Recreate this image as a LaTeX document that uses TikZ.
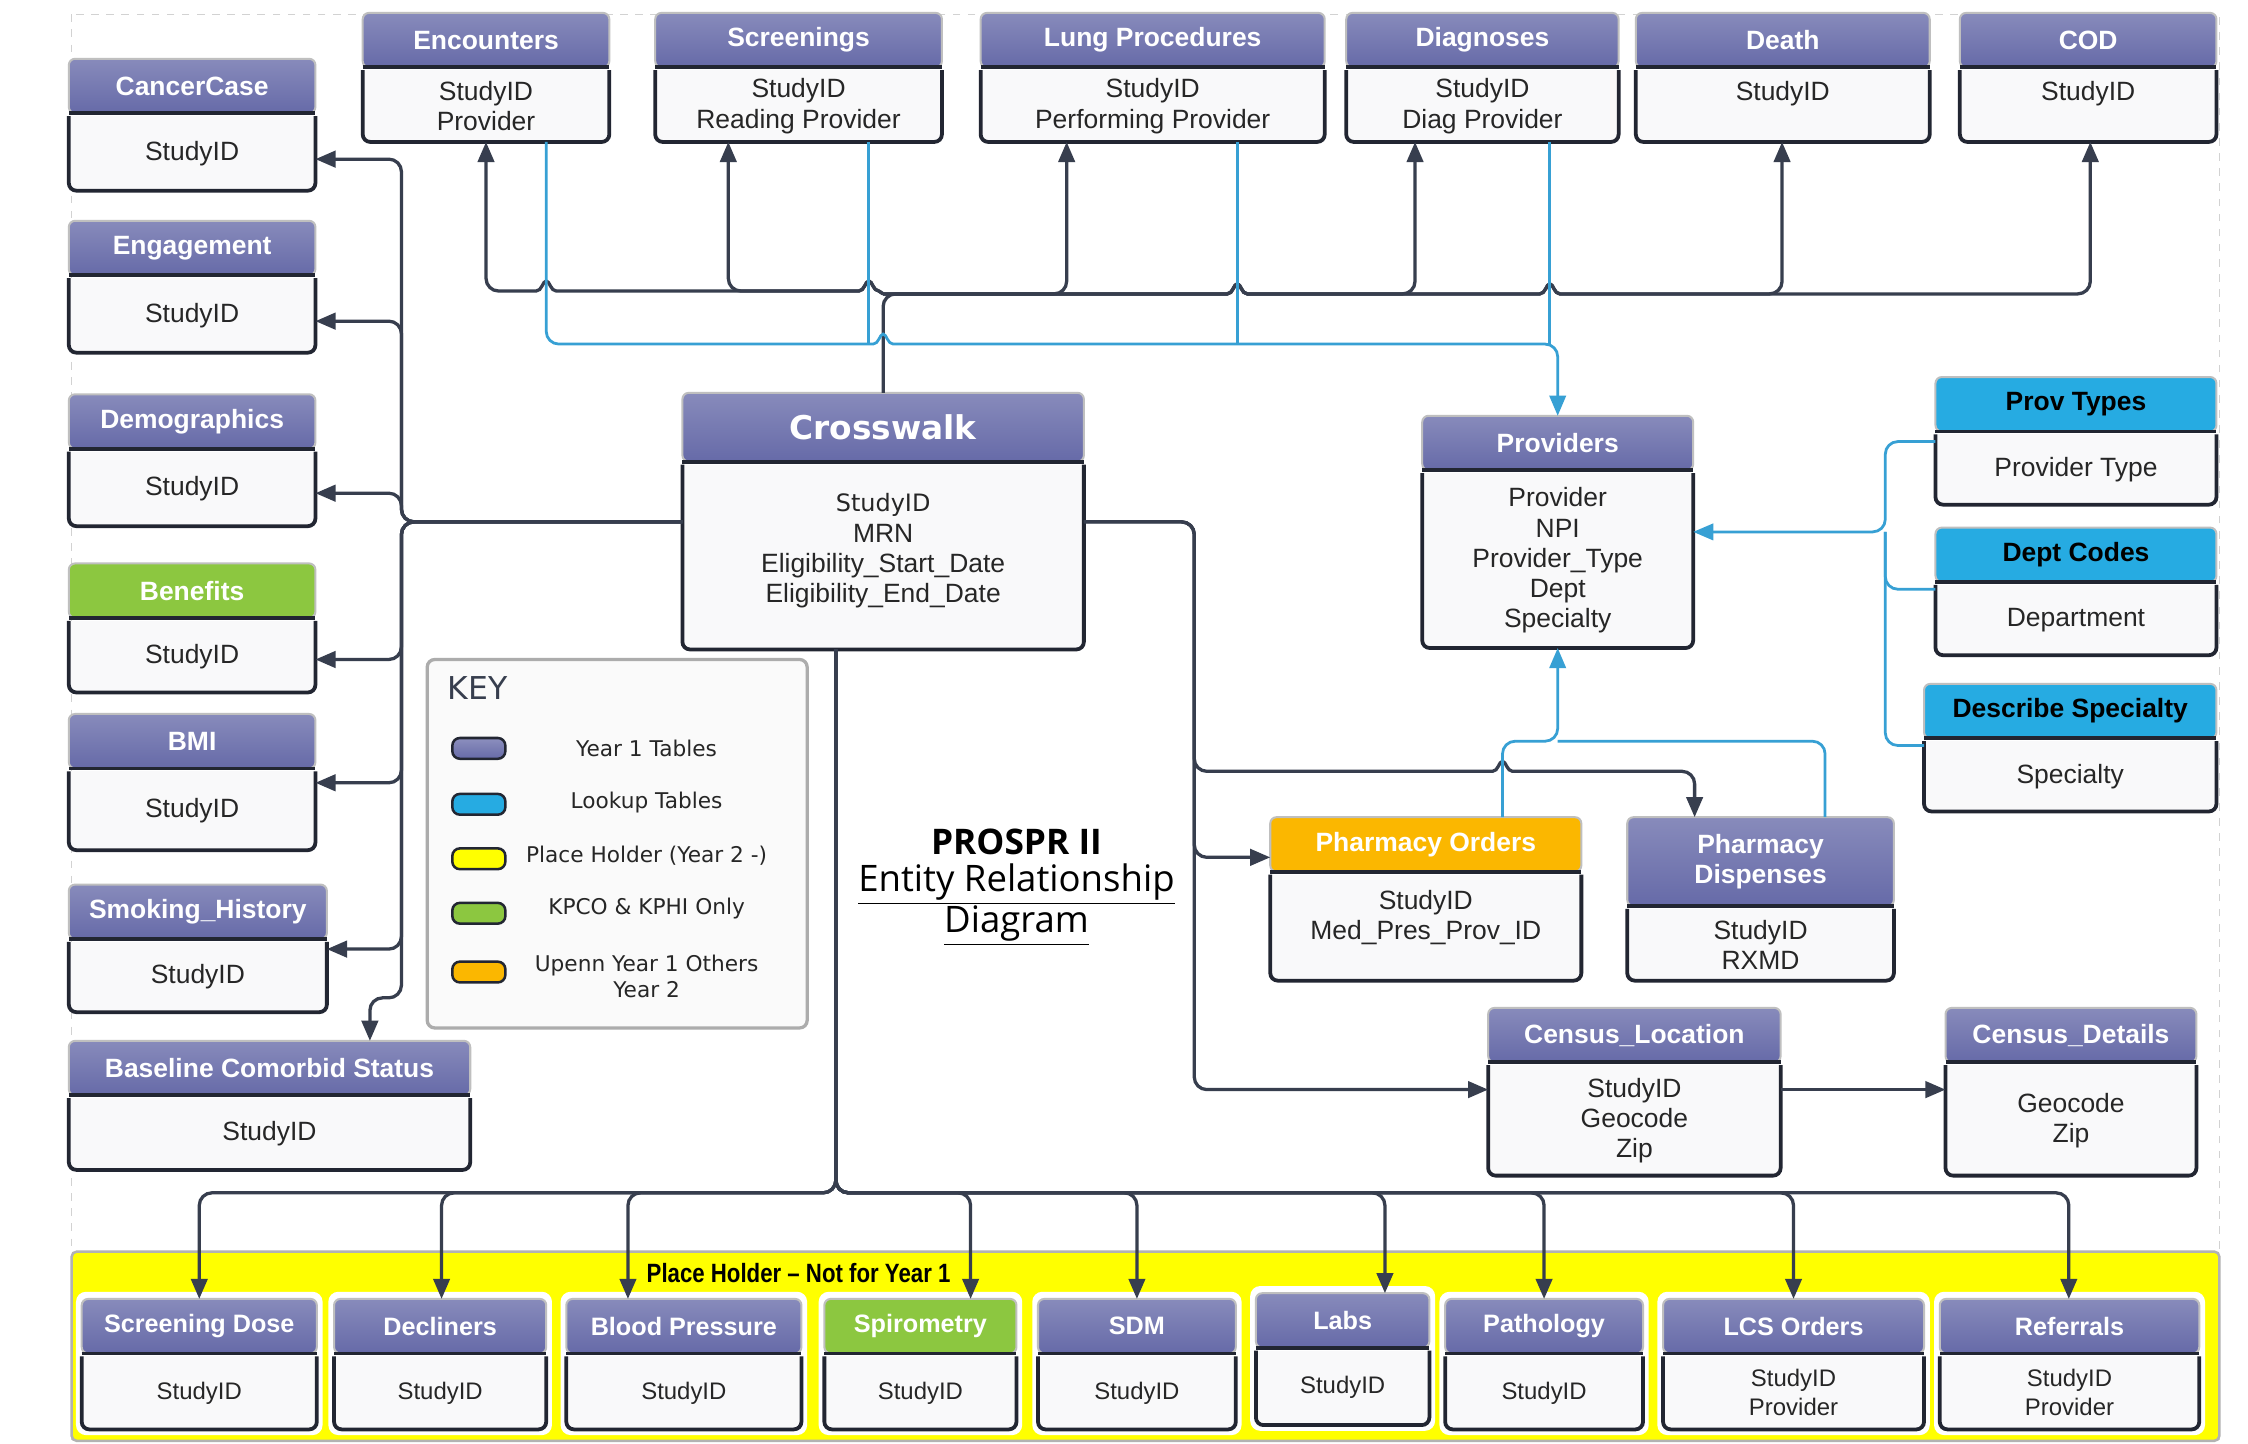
\documentclass[tikz,border=0pt]{standalone}
\usepackage{fontspec}
\setmainfont{Liberation Sans}
\newfontfamily\dvs{DejaVu Sans}
\newfontfamily\osans{Open Sans}
\newfontfamily\narrowf{Liberation Sans}[FakeStretch=0.84]
\usetikzlibrary{arrows.meta,fit}

\definecolor{hpur}{RGB}{102,106,168}
\definecolor{hcyan}{RGB}{38,171,226}
\definecolor{hgreen}{RGB}{140,199,64}
\definecolor{horange}{RGB}{251,183,0}
\definecolor{dkline}{RGB}{55,62,78}
\definecolor{bline}{RGB}{55,160,212}
\definecolor{bodyfill}{RGB}{249,249,250}
\definecolor{edgec}{RGB}{34,38,50}
\definecolor{phyellow}{RGB}{255,255,0}

\newcommand\erbox[9]{%
  \node[hdr,#7,fit={(#2,#4) (#3,#5)}] (#1H) {};
  \node[hdrtxt,#7t] (#1HT) at (#1H.center) {#8};
  \draw[hdrbot] (#1H.south west) -- (#1H.south east);
  \node[bodybox,fit={(#2,#5+2) (#3,#6)}] (#1) {};
  \draw[bodyedge] (#1.north west) -- (#1.south west) -- (#1.south east) -- (#1.north east);
  \node[bodytxt] (#1T) at (#1.center) {#9};
}
\newcommand\bmpR[2]{[sharp corners] -- (#1-7,#2) .. controls (#1-3,#2) and (#1-2.5,#2-7) .. (#1,#2-7) .. controls (#1+2.5,#2-7) and (#1+3,#2) .. (#1+7,#2) [rounded corners=5pt]}
\newcommand\bmpL[2]{[sharp corners] -- (#1+7,#2) .. controls (#1+3,#2) and (#1+2.5,#2-7) .. (#1,#2-7) .. controls (#1-2.5,#2-7) and (#1-3,#2) .. (#1-7,#2) [rounded corners=5pt]}

\begin{document}
\begin{tikzpicture}[x=0.02cm,y=-0.02cm,
  hdr/.style={inner sep=0pt, outer sep=0pt, rounded corners=2.5pt, draw=gray!50, line width=0.8pt},
  hdrtxt/.style={inner sep=0pt, align=center, font=\bfseries\fontsize{10.5}{12}\selectfont},
  hP/.style={top color=hpur!78!white, bottom color=hpur}, hPt/.style={text=white},
  hX/.style={hP}, hXt/.style={text=white, font=\dvs\bfseries\fontsize{13}{15}\selectfont},
  hC/.style={fill=hcyan}, hCt/.style={text=black},
  hG/.style={fill=hgreen}, hGt/.style={text=white},
  hO/.style={fill=horange}, hOt/.style={text=white},
  hdrbot/.style={draw=edgec, line width=1.5pt},
  bodybox/.style={inner sep=0pt, outer sep=0pt, fill=bodyfill},
  bodyedge/.style={draw=edgec, line width=1.5pt, rounded corners=3pt},
  bodytxt/.style={inner sep=0pt, align=center, text=black!85, font=\fontsize{10.5}{12}\selectfont},
  dk/.style={draw=dkline, line width=1.3pt, rounded corners=5pt},
  dkarr/.style={dk, -{Triangle[length=8pt,width=6.5pt]}},
  blu/.style={draw=bline, line width=1.1pt, rounded corners=5pt},
  bluarr/.style={blu, -{Triangle[length=8pt,width=6.5pt]}},
  swatch/.style={draw=edgec, line width=1pt, rounded corners=3pt, minimum width=0.74cm, minimum height=0.29cm, inner sep=0pt},
  keytxt/.style={font=\dvs\fontsize{8.6}{10.4}\selectfont, text=black!85, align=center, inner sep=0pt}
]
\useasboundingbox (0,0) rectangle (1568,1007);
\fill[white] (0,0) rectangle (1568,1007);
\draw[gray!35, dashed, line width=0.6pt] (50,10) rectangle (1548,1004);

% place holder band
\node[fill=phyellow, draw=gray!60, line width=1pt, rounded corners=2pt, inner sep=0pt, fit={(50,873) (1548,1005)}] (band) {};
\foreach \a/\b in {57/221,233/381,395/559,575/709,724/862,1008/1146,1160/1342,1353/1534}
  \fill[white, rounded corners=4pt] (\a-4,901) rectangle (\b+4,1001);
\fill[white, rounded corners=4pt] (872,897) rectangle (1001,998);

% top row
\erbox{enc}{253}{425}{9}{47}{99}{hP}{Encounters}{StudyID\\Provider}
\erbox{scr}{457}{657}{9}{47}{99}{hP}{Screenings}{StudyID\\Reading Provider}
\erbox{lung}{684}{924}{9}{47}{99}{hP}{Lung Procedures}{StudyID\\Performing Provider}
\erbox{diag}{939}{1129}{9}{47}{99}{hP}{Diagnoses}{StudyID\\Diag Provider}
\erbox{death}{1141}{1346}{9}{47}{99}{hP}{Death}{StudyID\\~}
\erbox{cod}{1367}{1546}{9}{47}{99}{hP}{COD}{StudyID\\~}

% left column
\erbox{cc}{48}{220}{41}{79}{133}{hP}{CancerCase}{StudyID}
\erbox{eng}{48}{220}{154}{192}{246}{hP}{Engagement}{StudyID}
\erbox{demo}{48}{220}{275}{313}{367}{hP}{Demographics}{StudyID}
\erbox{ben}{48}{220}{393}{431}{483}{hG}{Benefits}{StudyID}
\erbox{bmi}{48}{220}{498}{536}{593}{hP}{BMI}{StudyID}
\erbox{smk}{48}{228}{617}{655}{706}{hP}{Smoking\_History}{StudyID}
\erbox{bcs}{48}{328}{726}{764}{816}{hP}{Baseline Comorbid Status}{StudyID}

% crosswalk
\erbox{cw}{476}{756}{274}{322}{453}{hX}{Crosswalk}{\dvs\fontsize{9.5}{11.9}\selectfont StudyID\\MRN\\Eligibility\_Start\_Date\\Eligibility\_End\_Date\\[-5pt]}

% providers and lookups
\erbox{prov}{992}{1181}{290}{328}{452}{hP}{Providers}{Provider\\NPI\\Provider\_Type\\Dept\\Specialty}
\erbox{pt}{1350}{1546}{263}{301}{352}{hC}{Prov Types}{Provider Type}
\erbox{dc}{1350}{1546}{368}{406}{457}{hC}{Dept Codes}{Department}
\erbox{ds}{1342}{1546}{477}{515}{566}{hC}{Describe Specialty}{Specialty}

% pharmacy and census
\erbox{po}{886}{1103}{570}{608}{684}{hO}{Pharmacy Orders}{StudyID\\Med\_Pres\_Prov\_ID\\[-2pt]}
\erbox{pd}{1135}{1321}{570}{632}{684}{hP}{Pharmacy\\Dispenses}{StudyID\\RXMD}
\erbox{cl}{1038}{1242}{703}{741}{820}{hP}{Census\_Location}{StudyID\\Geocode\\Zip}
\erbox{cd}{1357}{1532}{703}{741}{820}{hP}{Census\_Details}{Geocode\\Zip}

% bottom row
\begin{scope}[bodytxt/.append style={font=\fontsize{9.5}{11.5}\selectfont}, hdrtxt/.append style={font=\bfseries\fontsize{10}{12}\selectfont}]
\erbox{sd}{57}{221}{906}{944}{997}{hP}{Screening Dose}{StudyID}
\erbox{dec}{233}{381}{906}{944}{997}{hP}{Decliners}{StudyID}
\erbox{bp}{395}{559}{906}{944}{997}{hP}{Blood Pressure}{StudyID}
\erbox{spi}{575}{709}{906}{944}{997}{hG}{Spirometry}{StudyID}
\erbox{sdm}{724}{862}{906}{944}{997}{hP}{SDM}{StudyID}
\erbox{labs}{876}{997}{902}{940}{994}{hP}{Labs}{StudyID}
\erbox{patho}{1008}{1146}{906}{944}{997}{hP}{Pathology}{StudyID}
\erbox{lcs}{1160}{1342}{906}{944}{997}{hP}{LCS Orders}{StudyID\\Provider}
\erbox{ref}{1353}{1534}{906}{944}{997}{hP}{Referrals}{StudyID\\Provider}
\end{scope}

\node[font=\narrowf\bfseries\fontsize{10.5}{12}\selectfont, inner sep=0pt] (phl) at (557,888) {Place Holder \textendash\ Not for Year 1};

% key
\node[draw=gray!65, line width=1.3pt, fill=gray!4, rounded corners=3pt, inner sep=0pt, fit={(298,460) (563,717)}] (key) {};
\node[font=\dvs\fontsize{12.5}{14}\selectfont, text=dkline, inner sep=0pt] (keyt) at (333,480) {KEY};
\node[swatch, top color=hpur!75!white, bottom color=hpur] (k1) at (334,522) {};
\node[swatch, fill=hcyan] (k2) at (334,561) {};
\node[swatch, fill=phyellow] (k3) at (334,599) {};
\node[swatch, fill=hgreen] (k4) at (334,637) {};
\node[swatch, fill=horange] (k5) at (334,678) {};
\node[keytxt] (k1t) at (451,522) {Year 1 Tables};
\node[keytxt] (k2t) at (451,560) {Lookup Tables};
\node[keytxt] (k3t) at (451,597) {Place Holder (Year 2 -)};
\node[keytxt] (k4t) at (451,634) {KPCO \& KPHI Only};
\node[keytxt] (k5t) at (451,681) {Upenn Year 1 Others\\Year 2};

% title
\node[font=\osans\bfseries\fontsize{14}{16}\selectfont, inner sep=0pt] (t1) at (709,587) {PROSPR II};
\node[font=\osans\fontsize{14.5}{16}\selectfont, inner sep=0pt] (t2) at (709,617) {\underline{Entity Relationship}};
\node[font=\osans\fontsize{14.5}{16}\selectfont, inner sep=0pt] (t3) at (709,646) {\underline{Diagram}};

% ---------- connectors ----------
\coordinate (tj) at (cwH.north |- 0,205);
% upper dark bus (Crosswalk -> top tables)
\draw[dkarr] (cwH.north) -- (tj) -- (744,205) -- (744,0 |- lung.south);
\draw[dkarr] (tj) -- (744,205) \bmpR{863}{205} -- (987,205) -- (987,0 |- diag.south);
\draw[dkarr] (tj) -- (744,205) \bmpR{863}{205} \bmpR{1081}{205} -- (1243,205) -- (1243,0 |- death.south);
\draw[dkarr] (tj) -- (744,205) \bmpR{863}{205} \bmpR{1081}{205} -- (1458,205) -- (1458,0 |- cod.south);
\draw[dkarr] (tj) \bmpL{606}{203} -- (508,203) -- (508,0 |- scr.south);
\draw[dkarr] (tj) \bmpL{606}{203} \bmpL{381}{203} -- (339,203) -- (339,0 |- enc.south);

% blue provider links (top)
\draw[bluarr] (381,0 |- enc.south) -- (381,240) \bmpR{616}{240} -- (provH.north |- 0,240) -- (provH.north);
\draw[blu] (606,0 |- scr.south) -- (606,240);
\draw[blu] (863,0 |- lung.south) -- (863,240);
\draw[blu] (1081,0 |- diag.south) -- (1081,240);

% left bus
\coordinate (lj) at (280,364);
\foreach \yy/\nm in {111/cc,224/eng,344/demo,460/ben,546/bmi,662/smk}
  \draw[dkarr] (cw.west |- lj) -- (lj) |- (\nm.east |- 0,\yy);
\draw[dkarr] (cw.west |- lj) -- (lj) -- (280,696) -- (258,696) -- (258,0 |- bcsH.north);

% bottom bus
\coordinate (bj) at (583,832);
\foreach \xx/\nm in {139/sd,308/dec,438/bp,677/spi,793/sdm,966/labs,1077/patho,1251/lcs,1443/ref}
  \draw[dkarr] (583,0 |- cw.south) -- (bj) -| (\xx,0 |- \nm H.north);

% right bus
\coordinate (rj) at (833,364);
\draw[dkarr] (cw.east |- rj) -- (rj) -- (833,760) -- (cl.west |- 0,760);
\draw[dkarr] (cw.east |- rj) -- (rj) -- (833,598) -- (poH.west |- 0,598);
\draw[dkarr] (cw.east |- rj) -- (rj) -- (833,538) \bmpR{1048}{538} -- (1182,538) -- (1182,0 |- pdH.north);
\draw[dkarr] (cl.east |- 0,760) -- (cd.west |- 0,760);

% blue pharmacy -> providers
\coordinate (pj) at (prov.south |- 0,517);
\draw[bluarr] (1048,0 |- poH.north) -- (1048,517) -- (pj) -- (prov.south);
\draw[blu] (1273,0 |- pdH.north) -- (1273,517) -- (pj);

% blue lookups -> providers
\coordinate (lk) at (1315,371);
\draw[bluarr] (pt.west |- 0,308) -- (1315,308) -- (lk) -- (prov.east |- lk);
\draw[blu] (dc.west |- 0,411) -- (1315,411) -- (lk);
\draw[blu] (ds.west |- 0,520) -- (1315,520) -- (lk);
\end{tikzpicture}
\end{document}
